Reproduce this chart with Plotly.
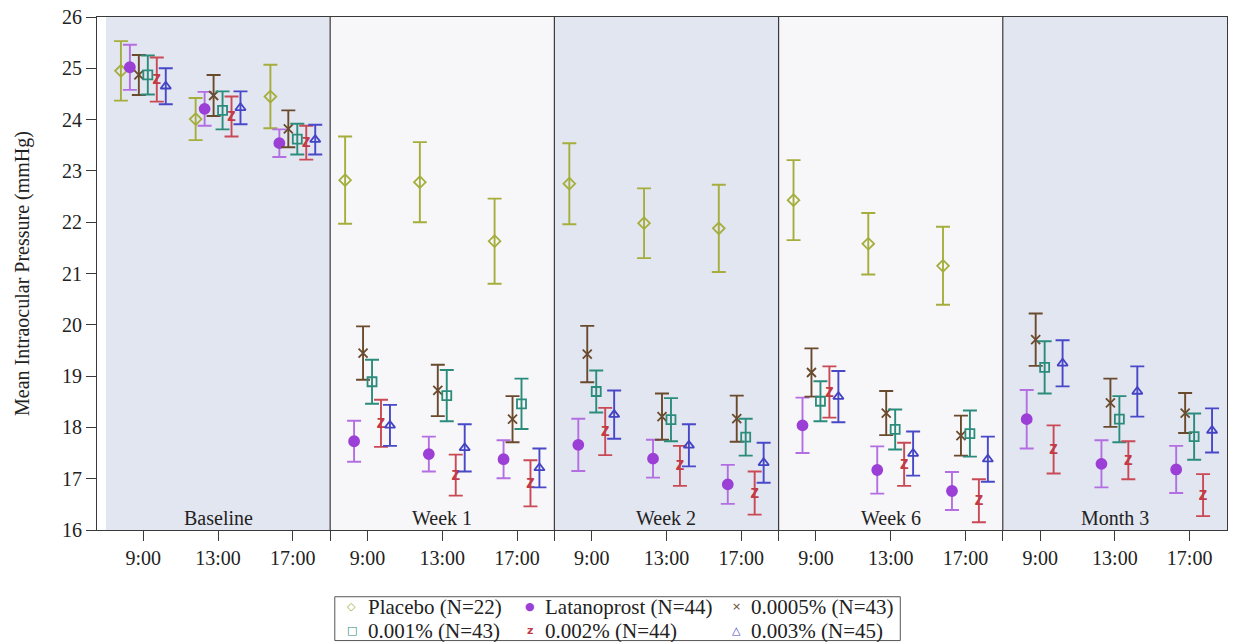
import plotly.graph_objects as go

# ---------------- data ----------------
visits = ["Baseline", "Week 1", "Week 2", "Week 6", "Month 3"]
times = ["9:00", "13:00", "17:00"]

series_names = ["Placebo (N=22)", "Latanoprost (N=44)", "0.0005% (N=43)",
                "0.001% (N=43)", "0.002% (N=44)", "0.003% (N=45)"]

placebo_mean = [24.95, 24.01, 24.45, 22.82, 22.78, 21.63, 22.75, 21.98, 21.88, 22.43, 21.58, 21.15, None, None, None]
placebo_err = [0.58, 0.41, 0.62, 0.85, 0.78, 0.83, 0.79, 0.68, 0.85, 0.78, 0.60, 0.76, None, None, None]

latanoprost_mean = [25.02, 24.21, 23.54, 17.73, 17.48, 17.38, 17.66, 17.39, 16.89, 18.04, 17.17, 16.76, 18.16, 17.29, 17.18]
latanoprost_err = [0.44, 0.33, 0.27, 0.40, 0.34, 0.37, 0.51, 0.37, 0.38, 0.54, 0.46, 0.37, 0.57, 0.46, 0.46]

c0005_mean = [24.87, 24.47, 23.82, 19.45, 18.72, 18.16, 19.43, 18.21, 18.17, 19.07, 18.28, 17.84, 19.71, 18.48, 18.28]
c0005_err = [0.39, 0.40, 0.36, 0.52, 0.50, 0.45, 0.55, 0.45, 0.45, 0.47, 0.43, 0.39, 0.51, 0.47, 0.39]

c001_mean = [24.87, 24.18, 23.62, 18.89, 18.62, 18.46, 18.70, 18.15, 17.81, 18.51, 17.96, 17.88, 19.17, 18.16, 17.82]
c001_err = [0.38, 0.37, 0.30, 0.43, 0.50, 0.49, 0.41, 0.42, 0.36, 0.39, 0.39, 0.45, 0.51, 0.45, 0.45]

c002_mean = [24.78, 24.06, 23.55, 18.08, 17.07, 16.91, 17.92, 17.25, 16.72, 18.69, 17.28, 16.57, 17.57, 17.36, 16.68]
c002_err = [0.43, 0.39, 0.33, 0.46, 0.40, 0.45, 0.46, 0.39, 0.42, 0.50, 0.42, 0.42, 0.47, 0.37, 0.41]

c003_mean = [24.65, 24.23, 23.61, 18.04, 17.60, 17.21, 18.25, 17.65, 17.31, 18.60, 17.49, 17.38, 19.25, 18.70, 17.94]
c003_err = [0.35, 0.32, 0.29, 0.40, 0.46, 0.38, 0.47, 0.41, 0.39, 0.50, 0.43, 0.44, 0.45, 0.49, 0.43]

means = [placebo_mean, latanoprost_mean, c0005_mean, c001_mean, c002_mean, c003_mean]
errs = [placebo_err, latanoprost_err, c0005_err, c001_err, c002_err, c003_err]

# ---------------- styles ----------------
FONT = "'Liberation Serif', 'Times New Roman', Times, 'DejaVu Serif', serif"
AX = "#3a3a3a"
colors = ["#A5AE3C", "#9B3FD6", "#6A4A2C", "#2C8C7C", "#C23A46", "#4343C4"]
bar_colors = ["#A5AE3C", "#B36FE2", "#6A4A2C", "#2C8C7C", "#C94A55", "#4848C8"]
symbols = ["diamond-open", "circle", "x-thin-open", "square-open", None, "triangle-up-open"]
legend_glyphs = ["\u25C7", "\u25CF", "\u00D7", "\u25A1", "<b>z</b>", "\u25B3"]
offsets = [-0.3, -0.18, -0.06, 0.06, 0.18, 0.3]
panel_fill = ["#E2E6F1", "#F7F7F9", "#E2E6F1", "#F7F7F9", "#E2E6F1"]

n_groups = len(visits) * len(times)
group_x = list(range(n_groups))
x_range = [-0.62, 14.5]

fig = go.Figure()

for i, name in enumerate(series_names):
    xs = [g + offsets[i] for g in group_x]
    err = dict(type="data", array=[e if e is not None else 0 for e in errs[i]],
               color=bar_colors[i], thickness=1.9, width=7, visible=True)
    if symbols[i] is None:
        fig.add_trace(go.Scatter(
            x=xs, y=means[i], mode="text", text=["<b>z</b>"] * n_groups,
            textfont=dict(family="Liberation Sans", size=18, color=colors[i]),
            textposition="middle center", error_y=err, name=name, showlegend=False))
    else:
        filled = symbols[i] == "circle"
        fig.add_trace(go.Scatter(
            x=xs, y=means[i], mode="markers", name=name, showlegend=False,
            marker=dict(symbol=symbols[i], size=10 if filled else 9, color=colors[i],
                        line=dict(width=1.8, color=colors[i])),
            error_y=err))

# panel backgrounds, dividers and labels
shapes = []
annotations = []
for v, visit in enumerate(visits):
    lo = v * len(times) - 0.5
    hi = lo + len(times)
    x0 = max(lo, x_range[0])
    x1 = min(hi, x_range[1])
    shapes.append(dict(type="rect", xref="x", yref="paper", x0=x0, x1=x1, y0=0, y1=1,
                       fillcolor=panel_fill[v], line=dict(width=0), layer="below"))
    if v > 0:
        shapes.append(dict(type="line", xref="x", yref="paper", x0=lo, x1=lo, y0=0, y1=1,
                           line=dict(color=AX, width=1.2), layer="above"))
    annotations.append(dict(x=(x0 + x1) / 2, y=16, xref="x", yref="y", text=visit,
                            showarrow=False, yanchor="bottom", yshift=-1,
                            font=dict(family=FONT, size=20, color="#222")))

# tick values: group centres + panel boundaries
tickvals = []
ticktext = []
for v in range(len(visits)):
    for t, tm in enumerate(times):
        tickvals.append(v * len(times) + t)
        ticktext.append(tm)
    if v > 0:
        tickvals.append(v * len(times) - 0.5)
        ticktext.append("")

# manual legend (pixel helpers)
L, R, T, B = 97, 6, 15, 112
W, H = 1234, 642
pw, ph = W - L - R, H - T - B
def px(xp):
    return (xp - L) / pw
def py(yp):
    return (H - B - yp) / ph

shapes.append(dict(type="rect", xref="paper", yref="paper", x0=px(335), x1=px(901),
                   y0=py(641), y1=py(597), line=dict(color="#555", width=1), fillcolor="white"))
col_sym = [352, 530, 737]
col_txt = [366, 543, 750]
row_y = [607, 631]
for i, name in enumerate(series_names):
    r, c = divmod(i, 3)
    annotations.append(dict(x=px(col_sym[c]), y=py(row_y[r]), xref="paper", yref="paper",
                            text=legend_glyphs[i], showarrow=False, xanchor="center", yanchor="middle",
                            font=dict(family="DejaVu Sans", size=11, color=colors[i])))
    annotations.append(dict(x=px(col_txt[c]), y=py(row_y[r]), xref="paper", yref="paper",
                            text=name, showarrow=False, xanchor="left", yanchor="middle",
                            font=dict(family=FONT, size=21, color="#222")))

fig.update_layout(
    width=W, height=H,
    margin=dict(l=L, r=R, t=T, b=B, pad=0),
    paper_bgcolor="white", plot_bgcolor="white",
    font=dict(family=FONT, size=20, color="#222"),
    showlegend=False,
    shapes=shapes, annotations=annotations,
    xaxis=dict(range=x_range, tickmode="array", tickvals=tickvals, ticktext=ticktext,
               ticks="outside", ticklen=10, tickwidth=1.2, tickcolor=AX,
               showline=True, linecolor=AX, linewidth=1.2, mirror=True,
               showgrid=False, zeroline=False, tickfont=dict(family=FONT, size=20, color="#222")),
    yaxis=dict(range=[16, 26], dtick=1, tick0=16,
               ticks="outside", ticklen=10, tickwidth=1.2, tickcolor=AX,
               showline=True, linecolor=AX, linewidth=1.2, mirror=True,
               showgrid=False, zeroline=False, tickfont=dict(family=FONT, size=20, color="#222"),
               title=dict(text="Mean Intraocular Pressure (mmHg)", standoff=26,
                          font=dict(family=FONT, size=20, color="#222"))),
)

fig.write_html("out.html")
